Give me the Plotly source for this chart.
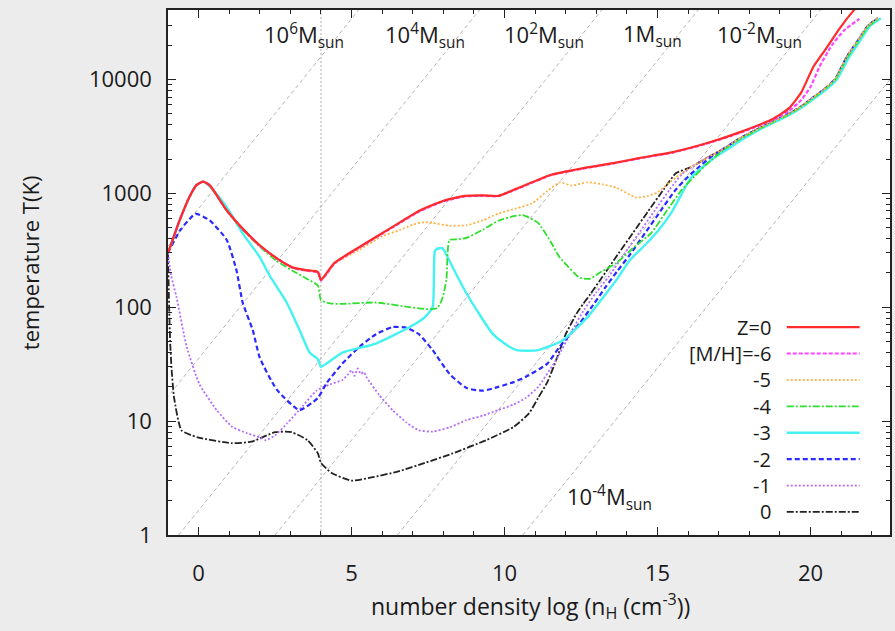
import math
import plotly.graph_objects as go

# ---------------- data ----------------
x_z0 = [-1.0,-0.62,-0.3,-0.07,0.15,0.36,0.92,1.44,2.0,2.55,3.07,3.5,3.9,4.0,4.44,5.26,6.3,7.2,8.0,8.7,9.3,9.8,10.4,11.5,12.5,13.6,14.4,15.5,16.6,17.7,18.8,19.3,19.7,20.1,20.5,20.95,21.4,21.8]
T_z0 = [300,580,930,1180,1270,1180,710,490,350,270,224,212,204,174,245,338,500,700,860,950,960,950,1100,1450,1650,1850,2040,2300,2750,3450,4550,5600,7700,13000,18500,28000,40000,52000]

x_m6 = [-1.0,-0.62,-0.3,-0.07,0.15,0.36,0.92,1.44,2.0,2.55,3.07,3.5,3.9,4.0,4.44,5.26,6.3,7.2,8.0,8.7,9.3,9.8,10.4,11.5,12.5,13.6,14.4,15.5,16.6,17.7,18.8,19.3,19.7,20.0,20.3,20.7,21.1,21.6]
T_m6 = [300,580,930,1180,1270,1180,705,485,345,268,222,210,202,172,242,335,495,690,850,940,950,945,1090,1440,1640,1840,2030,2280,2730,3400,4450,5300,6600,8600,13000,20000,27000,34000]

x_m5 = [-1.0,-0.62,-0.3,-0.07,0.15,0.36,0.92,1.44,2.0,2.55,3.07,3.5,3.9,4.0,4.44,5.26,6.0,6.57,7.0,7.4,7.65,8.2,8.76,9.3,9.8,10.4,10.9,11.4,11.8,12.2,12.7,13.2,13.66,14.3,14.7,15.0,15.6,16.1,16.6,17.2,17.7,18.3,18.8,19.3,19.7,20.1,20.4,20.8,21.2,21.6,21.9,22.2]
T_m5 = [300,580,930,1180,1270,1180,710,490,348,268,222,210,200,172,240,320,420,475,530,560,550,520,525,580,665,740,815,1050,1250,1170,1250,1200,1120,920,950,1020,1380,1700,2040,2500,3050,3700,4300,5000,5800,7000,8000,10000,16000,23000,30000,34500]

x_m4 = [-1.0,-0.62,-0.3,-0.07,0.15,0.36,0.92,1.44,2.0,2.55,3.07,3.5,3.9,4.0,4.3,4.7,5.8,6.9,7.5,7.8,7.97,8.1,8.2,8.5,8.76,9.3,9.8,10.3,10.6,11.1,11.5,11.8,12.45,12.8,13.1,13.66,14.2,14.8,15.3,15.8,16.2,16.6,17.2,17.7,18.3,18.8,19.3,19.7,20.1,20.4,20.8,21.2,21.6,21.9,22.25]
T_m4 = [300,580,930,1180,1270,1180,700,480,340,255,209,180,155,115,108,107,110,100,96,98,120,174,390,395,407,480,575,630,645,550,380,275,182,178,200,245,330,450,700,1080,1400,1800,2450,3000,3650,4250,4950,5750,6900,7900,9900,15500,22500,29500,34500]

x_m3 = [-1.0,-0.62,-0.3,-0.07,0.15,0.5,1.0,1.44,2.0,2.32,2.88,3.3,3.63,3.9,4.0,4.7,5.8,6.9,7.4,7.65,7.72,7.8,7.97,8.14,8.4,8.76,9.2,9.6,10.0,10.4,11.1,11.9,12.7,13.2,13.66,14.1,14.64,15.1,15.5,16.1,16.9,17.3,17.8,18.35,18.85,19.35,19.75,20.15,20.45,20.85,21.25,21.65,21.95,22.3]
T_m3 = [300,580,930,1180,1270,1050,700,445,275,190,110,63,40,35,30,40,48,67,82,100,310,325,330,275,200,132,85,59,48,42,42,51,81,120,174,260,363,500,710,1380,2090,2450,3000,3650,4250,4950,5750,6900,7900,9900,15500,22500,29500,34500]

x_m2 = [-1.0,-0.6,-0.1,0.36,0.92,1.24,1.44,1.77,2.0,2.55,3.3,3.9,4.18,4.7,5.26,5.8,6.34,6.8,7.2,7.65,8.2,8.76,9.3,9.8,10.3,10.7,11.4,11.8,12.45,12.9,13.3,13.7,14.1,14.6,15.1,15.6,16.0,16.4,16.7,17.2,17.7,18.3,18.8,19.3,19.7,20.1,20.4,20.8,21.2,21.6,21.9,22.2]
T_m2 = [300,475,660,580,390,210,110,63,36,19,12.5,16,21.5,32,45,58,67,66,58,42,26,19.5,18.5,20,22,24.5,32,45,72,105,150,210,290,450,700,1080,1400,1750,2040,2500,3050,3700,4300,5000,5800,7000,8000,10000,16000,23000,30000,34500]

x_m1 = [-1.0,-0.9,-0.72,-0.39,0.03,0.59,1.1,1.6,2.0,2.2,2.5,2.9,3.4,3.86,4.3,4.7,4.9,5.0,5.1,5.2,5.3,5.4,5.5,5.9,6.34,6.8,7.2,7.65,8.2,8.76,9.3,9.8,10.3,10.7,11.1,11.7,12.2,12.6,13.0,13.4,13.9,14.4,14.9,15.4,15.8,16.2,16.6,17.2,17.7,18.3,18.8,19.3,19.7,20.1,20.4,20.8,21.2,21.6,21.9,22.2]
T_m1 = [300,190,122,45,21,12.5,8.9,7.8,7.2,6.8,7.5,9.6,13.5,18.6,21,23,26,28,25,29,26,27,24,17,12.5,9.7,8.3,8.1,8.8,10.2,11.2,12.5,14,16,20,35,62,95,135,185,290,450,700,1080,1480,1750,2040,2500,3050,3700,4300,5000,5800,7000,8000,10000,16000,23000,30000,34500]

x_m0 = [-1.0,-0.97,-0.93,-0.88,-0.8,-0.56,-0.03,1.08,1.73,2.5,3.04,3.56,3.9,4.0,4.35,5.0,5.65,6.5,7.4,8.3,9.4,10.3,10.8,11.1,11.4,11.7,12.0,12.4,12.8,13.2,13.7,14.2,14.7,15.2,15.6,16.1,16.6,17.2,17.7,18.3,18.8,19.3,19.7,20.1,20.4,20.8,21.2,21.6,21.9,22.2]
T_m0 = [300,120,50,28,16,8.3,7.2,6.4,6.6,8.0,8.0,6.8,5.2,4.3,3.5,3.0,3.2,3.6,4.3,5.2,6.8,8.9,11.7,16,22,35,58,92,130,185,290,450,700,1080,1500,1700,2040,2500,3050,3700,4300,5000,5800,7000,8000,10000,16000,23000,30000,34500]

series_names = ["Z=0", "[M/H]=-6", "-5", "-4", "-3", "-2", "-1", "0"]

# Jeans-mass guide lines: log n_H where each line meets T = 1 K
guide_logn_at_1K = [-8.6, -4.65, -0.65, 2.5, 6.5, 10.6]
guide_slope = 1.0 / 3.0           # d log T / d log n along a line of constant Jeans mass
mass_labels = ["10<sup>6</sup>M<sub>sun</sub>", "10<sup>4</sup>M<sub>sun</sub>",
               "10<sup>2</sup>M<sub>sun</sub>", "1M<sub>sun</sub>",
               "10<sup>-2</sup>M<sub>sun</sub>", "10<sup>-4</sup>M<sub>sun</sub>"]
mass_label_x = [3.46, 7.39, 11.3, 14.85, 18.33, 13.43]
mass_label_T = [24500, 24500, 24500, 24500, 24500, 2.15]

boundary_logn = 4.0
x_ticks = [0, 5, 10, 15, 20]
y_ticks = [1, 10, 100, 1000, 10000]
y_minor = [m * 10 ** d for d in range(0, 5) for m in range(2, 10)]

# ---------------- figure ----------------
FONT = "Open Sans"
TXT = "#1a1a1a"
fig = go.Figure()

for b in guide_logn_at_1K:
    xs = [b, b + 5.0 / guide_slope]
    ts = [1.0, 10 ** 5.0]
    fig.add_trace(go.Scatter(x=xs, y=ts, mode="lines", showlegend=False, hoverinfo="skip",
                             line=dict(color="#b5b5b5", width=1, dash="4px,3px")))

fig.add_trace(go.Scatter(x=[boundary_logn, boundary_logn], y=[1, 10 ** 4.7], mode="lines",
                         showlegend=False, hoverinfo="skip",
                         line=dict(color="#b0b0b0", width=1, dash="2px,2px")))

styles = [
    dict(color="#ff2a2a", width=2.2, dash="solid"),
    dict(color="#ff44ff", width=2.2, dash="4px,2px"),
    dict(color="#ffb347", width=1.8, dash="2px,2px"),
    dict(color="#2ee02e", width=1.8, dash="7px,2px,2px,2px"),
    dict(color="#44f2f2", width=2.4, dash="solid"),
    dict(color="#2a2aff", width=2.2, dash="5px,3px"),
    dict(color="#b36bff", width=1.8, dash="2px,2px"),
    dict(color="#222222", width=1.8, dash="7px,2px,2px,2px"),
]
xs_all = [x_m0, x_m1, x_m2, x_m3, x_m4, x_m5, x_m6, x_z0]
ts_all = [T_m0, T_m1, T_m2, T_m3, T_m4, T_m5, T_m6, T_z0]
for xs, ts, nm, st in zip(xs_all, ts_all, series_names[::-1], styles[::-1]):
    fig.add_trace(go.Scatter(x=xs, y=ts, mode="lines", name=nm, showlegend=False,
                             line=dict(shape="spline", smoothing=0.5, **st)))

# gnuplot-style legend (text to the left of the sample line)
x0, x1 = 0.857, 0.958
y_top, y_step = 0.396, 0.0503
for i, (nm, st) in enumerate(zip(series_names, styles)):
    yy = y_top - i * y_step
    fig.add_shape(type="line", xref="paper", yref="paper", x0=x0, x1=x1, y0=yy, y1=yy,
                  line=dict(color=st["color"], width=st["width"], dash=st["dash"]))
    fig.add_annotation(xref="paper", yref="paper", x=0.837, y=yy, text=nm, showarrow=False,
                       xanchor="right", yanchor="middle", borderpad=0,
                       font=dict(family=FONT, size=20, color=TXT))

for lab, lx, lt in zip(mass_labels, mass_label_x, mass_label_T):
    fig.add_annotation(x=lx, y=math.log10(lt), xref="x", yref="y", text=lab, showarrow=False,
                       xanchor="center", yanchor="middle", font=dict(family=FONT, size=22, color=TXT))

fig.add_annotation(xref="paper", yref="paper", x=-0.191, y=0.518, text="temperature T(K)",
                   xanchor="center", yanchor="middle",
                   textangle=-90, showarrow=False, font=dict(family=FONT, size=22, color=TXT))
fig.add_annotation(xref="paper", yref="paper", x=0.502, y=-0.135,
                   text="number density log (n<sub>H</sub> (cm<sup>-3</sup>))",
                   xanchor="center", yanchor="middle",
                   showarrow=False, font=dict(family=FONT, size=23, color=TXT))

fig.update_xaxes(range=[-1.0, 22.6], tickvals=x_ticks, ticks="inside", ticklen=8, tickwidth=1,
                 tickcolor="#222", mirror="allticks", showline=True, linecolor="#222", linewidth=1.5,
                 showgrid=False, zeroline=False, ticklabelstandoff=18, automargin=False,
                 minor=dict(dtick=1, tick0=0, ticks="inside", ticklen=4, tickcolor="#222", showgrid=False),
                 tickfont=dict(family=FONT, size=22, color=TXT))
fig.update_yaxes(type="log", range=[0, 4.61], tickvals=y_ticks, ticktext=[str(v) for v in y_ticks],
                 ticks="inside", ticklen=8, tickwidth=1, tickcolor="#222", mirror="allticks",
                 showline=True, linecolor="#222", linewidth=1.5, showgrid=False, zeroline=False,
                 ticklabelstandoff=10, automargin=False,
                 minor=dict(tickvals=y_minor, ticks="inside", ticklen=4, tickcolor="#222", showgrid=False),
                 tickfont=dict(family=FONT, size=22, color=TXT))

fig.update_layout(width=895, height=631, margin=dict(l=168, r=5, t=10, b=96),
                  paper_bgcolor="#ececec", plot_bgcolor="white", showlegend=False,
                  font=dict(family=FONT, size=22, color=TXT))

fig.write_html("out.html", config={"displayModeBar": False},
               post_script="document.body.style.margin='0px';document.body.style.backgroundColor='#ececec';")
